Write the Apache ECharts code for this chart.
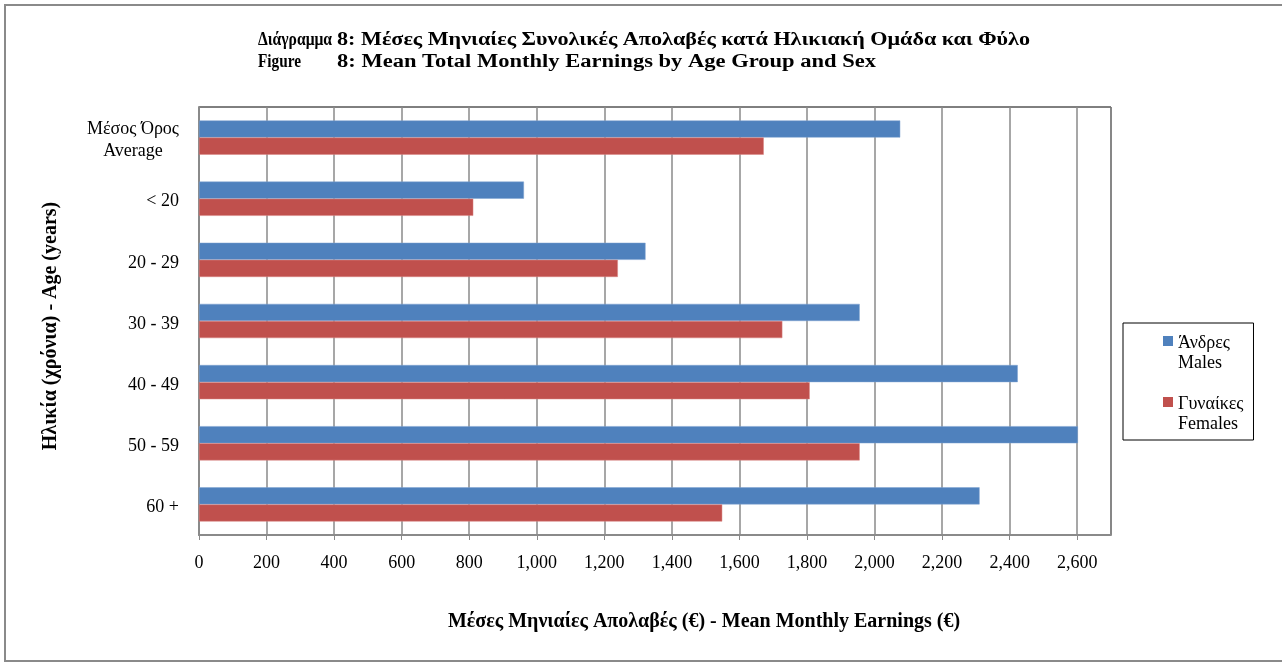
<!DOCTYPE html>
<html>
<head>
<meta charset="utf-8">
<script src="https://cdn.jsdelivr.net/npm/echarts@6/dist/echarts.min.js"></script>
<style>
html,body{margin:0;padding:0;background:#fff;}
#chart{width:1282px;height:662px;}
</style>
</head>
<body>
<div id="chart"></div>
<script>
const categories = ['Μέσος Όρος\nAverage', '< 20', '20 - 29', '30 - 39', '40 - 49', '50 - 59', '60 +'];
const males = [2076, 962, 1322, 1956, 2424, 2602, 2311];
const females = [1672, 812, 1240, 1727, 1808, 1956, 1549];
const seriesNames = ['Άνδρες\nMales', 'Γυναίκες\nFemales'];
const titleLine1a = 'Διάγραμμα';
const titleLine1b = '8: Μέσες Μηνιαίες Συνολικές Απολαβές κατά Ηλικιακή Ομάδα και Φύλο';
const titleLine2a = 'Figure';
const titleLine2b = '8: Mean Total Monthly Earnings by Age Group and Sex';
const xAxisName = 'Μέσες Μηνιαίες Απολαβές (€) - Mean Monthly Earnings (€)';
const yAxisName = 'Ηλικία (χρόνια) - Age (years)';

const FONT = '"Liberation Serif", "DejaVu Serif", serif';
const TITLE_FONT = 'bold 18px "Liberation Serif", serif';
const chart = echarts.init(document.getElementById('chart'));
const legendIcon = 'path://M0,0h0.01v0.01h-0.01z M0,3h10v10h-10z M0,40h0.01v0.01h-0.01z';

const ctx = document.createElement('canvas').getContext('2d');
ctx.font = TITLE_FONT;
function fitScale(text, target) { return target / ctx.measureText(text).width; }

function titleText(text, x, y, targetWidth) {
  return {
    type: 'text', silent: true, x: x, y: y,
    scaleX: targetWidth ? fitScale(text, targetWidth) : 1,
    style: { text: text, font: TITLE_FONT, fill: '#000', textVerticalAlign: 'middle', verticalAlign: 'middle' }
  };
}

chart.setOption({
  animation: false,
  backgroundColor: '#fff',
  textStyle: { fontFamily: FONT, color: '#000' },
  graphic: [
    { type: 'rect', silent: true,
      shape: { x: 5, y: 5, width: 1300, height: 656 },
      style: { fill: 'none', stroke: '#8a8a8a', lineWidth: 2 } },
    titleText(titleLine1a, 258, 40, 74),
    titleText(titleLine1b, 337, 40, 693),
    titleText(titleLine2a, 258, 62, 43),
    titleText(titleLine2b, 337, 62, 539)
  ],
  legend: {
    orient: 'vertical',
    left: 1123, top: 323,
    padding: [10, 10, 6, 40],
    borderColor: '#000', borderWidth: 1,
    itemWidth: 10, itemHeight: 40,
    itemGap: 21,
    icon: legendIcon,
    itemStyle: { borderWidth: 0 },
    data: seriesNames,
    textStyle: { fontFamily: FONT, fontSize: 18, color: '#000', lineHeight: 20 }
  },
  grid: {
    left: 199, right: 171, top: 107, bottom: 127,
    show: true, borderColor: '#000', borderWidth: 1, containLabel: false
  },
  xAxis: {
    type: 'value', min: 0, max: 2700, interval: 200,
    name: xAxisName, nameLocation: 'middle', nameGap: 77,
    nameTextStyle: { fontFamily: FONT, fontWeight: 'bold', fontSize: 20, color: '#000', padding: [0, 0, 0, 98] },
    axisLine: { show: true, lineStyle: { color: '#8a8a8a', width: 2 } },
    axisTick: { show: true, length: 5, lineStyle: { color: '#8a8a8a', width: 1 } },
    axisLabel: {
      showMaxLabel: false, margin: 19, fontFamily: FONT, fontSize: 18, color: '#000',
      formatter: v => v.toLocaleString('en-US')
    },
    splitLine: { show: true, lineStyle: { color: '#8a8a8a', width: 1.5 } }
  },
  yAxis: {
    type: 'category', inverse: true, data: categories,
    name: yAxisName, nameLocation: 'middle', nameGap: 138, nameRotate: 90,
    nameTextStyle: { fontFamily: FONT, fontWeight: 'bold', fontSize: 20, color: '#000', padding: [0, 10, 0, 0] },
    axisLine: { show: true, lineStyle: { color: '#8a8a8a', width: 2 } },
    axisTick: { show: false },
    axisLabel: {
      margin: 20,
      padding: [6, 0, 0, 0],
      formatter: v => v.split('\n').map(s => '{c|' + s + '}').join('\n'),
      rich: { c: { align: 'center', fontFamily: FONT, fontSize: 18, color: '#000', lineHeight: 22 } }
    },
    splitLine: { show: false }
  },
  series: [
    { name: seriesNames[0], type: 'bar', data: males, barGap: '0%', barCategoryGap: '44%',
      itemStyle: { color: '#4F81BD', borderColor: '#7FA3D0', borderWidth: 0.5 } },
    { name: seriesNames[1], type: 'bar', data: females, barGap: '0%', barCategoryGap: '44%',
      itemStyle: { color: '#C0504D', borderColor: '#D88583', borderWidth: 0.5 } }
  ]
});
</script>
</body>
</html>
